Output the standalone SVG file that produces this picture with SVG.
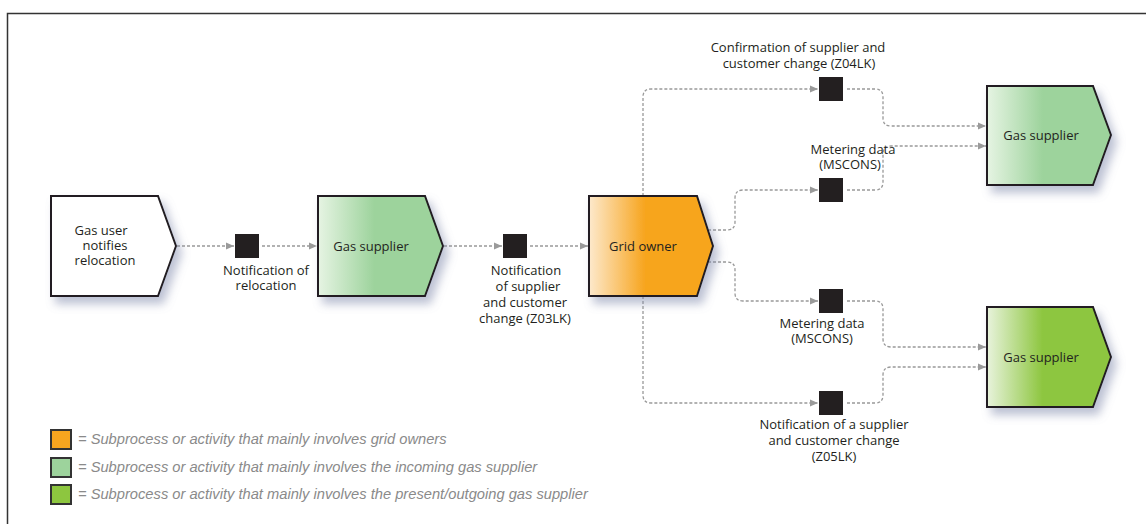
<svg xmlns="http://www.w3.org/2000/svg" width="1146" height="524" viewBox="0 0 1146 524">
<defs>
  <filter id="sh" x="-20%" y="-20%" width="150%" height="160%">
    <feGaussianBlur in="SourceAlpha" stdDeviation="5"/>
    <feOffset dx="5" dy="7" result="b"/>
    <feFlood flood-color="#7a84a8" flood-opacity="0.5"/>
    <feComposite in2="b" operator="in"/>
    <feMerge><feMergeNode/><feMergeNode in="SourceGraphic"/></feMerge>
  </filter>
  <linearGradient id="gOr" x1="0" y1="0" x2="1" y2="0">
    <stop offset="0" stop-color="#fde9cc"/>
    <stop offset="0.45" stop-color="#f7a51f"/>
    <stop offset="1" stop-color="#f7a51f"/>
  </linearGradient>
  <linearGradient id="gLg" x1="0" y1="0" x2="1" y2="0">
    <stop offset="0" stop-color="#e6f4e3"/>
    <stop offset="0.45" stop-color="#9dd39c"/>
    <stop offset="1" stop-color="#9dd39c"/>
  </linearGradient>
  <linearGradient id="gDg" x1="0" y1="0" x2="1" y2="0">
    <stop offset="0" stop-color="#e8f3dc"/>
    <stop offset="0.45" stop-color="#8dc63f"/>
    <stop offset="1" stop-color="#8dc63f"/>
  </linearGradient>
  <marker id="ar" markerWidth="9" markerHeight="8" refX="8" refY="4" orient="auto" markerUnits="userSpaceOnUse">
    <path d="M0,0.5 L8,4 L0,7.5 Z" fill="#9a9a9a"/>
  </marker>
</defs>
<style>
  .node{stroke:#231f20;stroke-width:2;filter:url(#sh)}
  .t{font-family:"Open Sans","Noto Sans",sans-serif;font-size:13px;fill:#231f20;text-anchor:middle}
  .c{fill:none;stroke:#999;stroke-width:1.3;stroke-dasharray:3,2}
  .ca{marker-end:url(#ar)}
  .sq{fill:#231f20}
  .lg{font-family:"Liberation Sans",Arial,sans-serif;font-style:italic;font-size:14.7px;fill:#8a8a8a}
  .lgb{stroke:#333;stroke-width:2}
</style>
<rect width="1146" height="524" fill="#fff"/>
<path d="M7.5,524 V13.5 H1146" fill="none" stroke="#333" stroke-width="1.5"/>

<g id="connectors">
  <path class="c ca" d="M177,246 H234"/>
  <path class="c ca" d="M262,246 H317"/>
  <path class="c ca" d="M444,246 H502"/>
  <path class="c ca" d="M530,246 H588"/>
  <path class="c ca" d="M643,196 V97 Q643,89 651,89 H818"/>
  <path class="c ca" d="M847,89 H875 Q883,89 883,97 V118 Q883,126 891,126 H986"/>
  <path class="c ca" d="M708,230 H727 Q735,230 735,222 V198 Q735,190 743,190 H818"/>
  <path class="c ca" d="M847,190 H875 Q883,190 883,182 V154 Q883,146 891,146 H986"/>
  <path class="c ca" d="M708,262 H727 Q735,262 735,270 V293 Q735,301 743,301 H818"/>
  <path class="c ca" d="M847,301 H875 Q883,301 883,309 V339 Q883,347 891,347 H986"/>
  <path class="c ca" d="M643,296 V395 Q643,403 651,403 H818"/>
  <path class="c ca" d="M847,403 H875 Q883,403 883,395 V375 Q883,367 891,367 H986"/>
</g>

<g id="gas-user">
  <path class="node" fill="#ffffff" d="M51,196 H158 L176,246 L158,296 H51 Z"/>
  <text class="t" y="235"><tspan x="101">Gas user</tspan><tspan x="105" dy="15">notifies</tspan><tspan x="105" dy="15">relocation</tspan></text>
</g>

<g id="msg-relocation">
  <rect class="sq" x="235" y="234" width="24" height="24"/>
  <text class="t" y="275"><tspan x="266">Notification of</tspan><tspan x="266" dy="15">relocation</tspan></text>
</g>

<g id="gas-supplier-1">
  <path class="node" fill="url(#gLg)" d="M318,196 H425 L443,246 L425,296 H318 Z"/>
  <text class="t" x="371" y="251">Gas supplier</text>
</g>

<g id="msg-z03lk">
  <rect class="sq" x="503" y="234" width="24" height="24"/>
  <text class="t" y="275"><tspan x="526">Notification</tspan><tspan x="528" dy="16">of supplier</tspan><tspan x="525" dy="16">and customer</tspan><tspan x="525" dy="16">change (Z03LK)</tspan></text>
</g>

<g id="grid-owner">
  <path class="node" fill="url(#gOr)" d="M589,196 H697 L713,246 L697,296 H589 Z"/>
  <text class="t" x="643" y="251">Grid owner</text>
</g>

<g id="msg-z04lk">
  <rect class="sq" x="819" y="77" width="24" height="24"/>
  <text class="t" y="52"><tspan x="798">Confirmation of supplier and</tspan><tspan x="799" dy="16">customer change (Z04LK)</tspan></text>
</g>

<g id="msg-mscons-1">
  <rect class="sq" x="819" y="178" width="24" height="24"/>
  <text class="t" y="154"><tspan x="853">Metering data</tspan><tspan x="850" dy="15">(MSCONS)</tspan></text>
</g>

<g id="msg-mscons-2">
  <rect class="sq" x="819" y="289" width="24" height="24"/>
  <text class="t" y="328"><tspan x="822">Metering data</tspan><tspan x="822" dy="15">(MSCONS)</tspan></text>
</g>

<g id="msg-z05lk">
  <rect class="sq" x="819" y="391" width="24" height="24"/>
  <text class="t" y="429"><tspan x="834">Notification of a supplier</tspan><tspan x="834" dy="16">and customer change</tspan><tspan x="834" dy="16">(Z05LK)</tspan></text>
</g>

<g id="gas-supplier-incoming">
  <path class="node" fill="url(#gLg)" d="M987,86 H1093 L1111,135 L1093,185 H987 Z"/>
  <text class="t" x="1041" y="140">Gas supplier</text>
</g>

<g id="gas-supplier-outgoing">
  <path class="node" fill="url(#gDg)" d="M987,307 H1093 L1111,357 L1093,407 H987 Z"/>
  <text class="t" x="1041" y="362">Gas supplier</text>
</g>

<g id="legend">
  <rect class="lgb" x="51" y="430" width="20" height="19" fill="#f7a51f"/>
  <text class="lg" x="78" y="444">= Subprocess or activity that mainly involves grid owners</text>
  <rect class="lgb" x="51" y="458" width="20" height="19" fill="#9dd39c"/>
  <text class="lg" x="78" y="472">= Subprocess or activity that mainly involves the incoming gas supplier</text>
  <rect class="lgb" x="51" y="485" width="20" height="19" fill="#8dc63f"/>
  <text class="lg" x="78" y="499">= Subprocess or activity that mainly involves the present/outgoing gas supplier</text>
</g>
</svg>
